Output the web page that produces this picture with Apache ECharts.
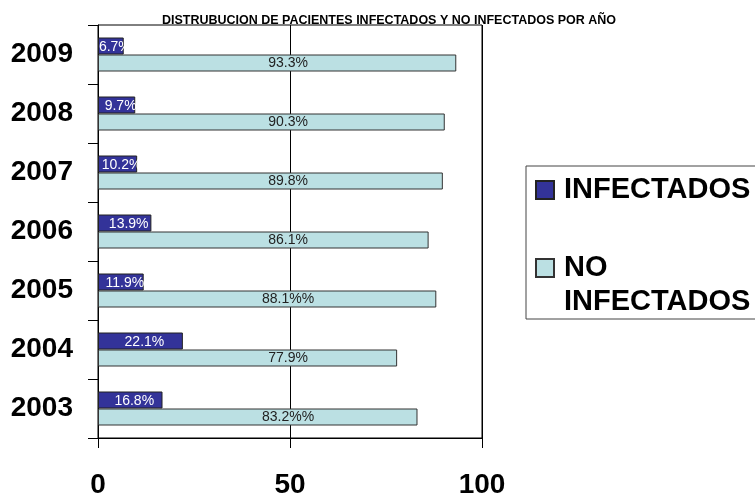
<!DOCTYPE html>
<html>
<head>
<meta charset="utf-8">
<script src="https://cdn.jsdelivr.net/npm/echarts@6/dist/echarts.min.js"></script>
<style>html,body{margin:0;padding:0;background:#fff;}#c{width:755px;height:500px;}</style>
</head>
<body>
<div id="c"></div>
<script>
const years = ['2003', '2004', '2005', '2006', '2007', '2008', '2009'];
const infectados = [16.8, 22.1, 11.9, 13.9, 10.2, 9.7, 6.7];
const noInfectados = [83.2, 77.9, 88.1, 86.1, 89.8, 90.3, 93.3];
const infLabels = ['16.8%', '22.1%', '11.9%', '13.9%', '10.2%', '9.7%', '6.7%'];
const noInfLabels = ['83.2%%', '77.9%', '88.1%%', '86.1%', '89.8%', '90.3%', '93.3%'];
const titleText = 'DISTRUBUCION DE PACIENTES INFECTADOS Y NO INFECTADOS POR AÑO';
const seriesNames = ['INFECTADOS', 'NO INFECTADOS'];

const FONT = '"Liberation Sans", Arial, sans-serif';
const LABEL_AT = 49.5; // value where the NO INFECTADOS labels are centred

const chart = echarts.init(document.getElementById('c'), null, {renderer: 'canvas'});
chart.setOption({
  animation: false,
  backgroundColor: '#fff',
  title: {
    text: titleText,
    left: 384, top: 9, textAlign: 'center',
    textStyle: {fontFamily: FONT, fontWeight: 'bold', fontSize: 12.5, color: '#000'}
  },
  legend: {
    orient: 'vertical',
    left: 526, top: 166,
    padding: [7, 30, 0, 9],
    itemGap: 10,
    itemWidth: 18, itemHeight: 18,
    icon: 'rect',
    borderColor: '#444', borderWidth: 1,
    data: seriesNames,
    formatter: function (name) {
      return name === seriesNames[1] ? '\nNO\nINFECTADOS' : name;
    },
    textStyle: {fontFamily: FONT, fontWeight: 'bold', fontSize: 29, lineHeight: 34, color: '#000', padding: [0, 0, 0, 5]}
  },
  grid: {
    left: 98, top: 25, right: 273, bottom: 62,
    show: true, borderColor: '#000', borderWidth: 1
  },
  xAxis: {
    type: 'value', min: 0, max: 100, interval: 50,
    axisLine: {show: true, lineStyle: {color: '#000'}},
    axisTick: {show: true, length: 10, inside: false, lineStyle: {color: '#000'}},
    splitLine: {show: true, lineStyle: {color: '#000', width: 1}},
    axisLabel: {margin: 33, fontFamily: FONT, fontWeight: 'bold', fontSize: 28, color: '#000'}
  },
  yAxis: {
    type: 'category', data: years,
    axisLine: {show: true, lineStyle: {color: '#000'}},
    axisTick: {show: true, length: 10, lineStyle: {color: '#000'}},
    axisLabel: {margin: 25, fontFamily: FONT, fontWeight: 'bold', fontSize: 28, color: '#000'}
  },
  series: [
    {
      name: seriesNames[0], type: 'bar', barWidth: 17, barGap: '0%',
      itemStyle: {color: '#333399', borderColor: '#222', borderWidth: 1},
      label: {
        show: true, position: 'inside', offset: [4, 1],
        fontFamily: FONT, fontSize: 14, color: '#fff',
        formatter: p => infLabels[p.dataIndex]
      },
      data: infectados
    },
    {
      name: seriesNames[1], type: 'bar', barWidth: 17, barGap: '0%',
      itemStyle: {color: '#BBE0E3', borderColor: '#333', borderWidth: 1},
      data: noInfectados.map(v => ({
        value: v,
        label: {
          show: true,
          position: [(LABEL_AT / v * 100).toFixed(2) + '%', '50%'],
          align: 'center', verticalAlign: 'middle',
          fontFamily: FONT, fontSize: 14, color: '#222',
          formatter: p => noInfLabels[p.dataIndex]
        }
      }))
    }
  ]
});
</script>
</body>
</html>
